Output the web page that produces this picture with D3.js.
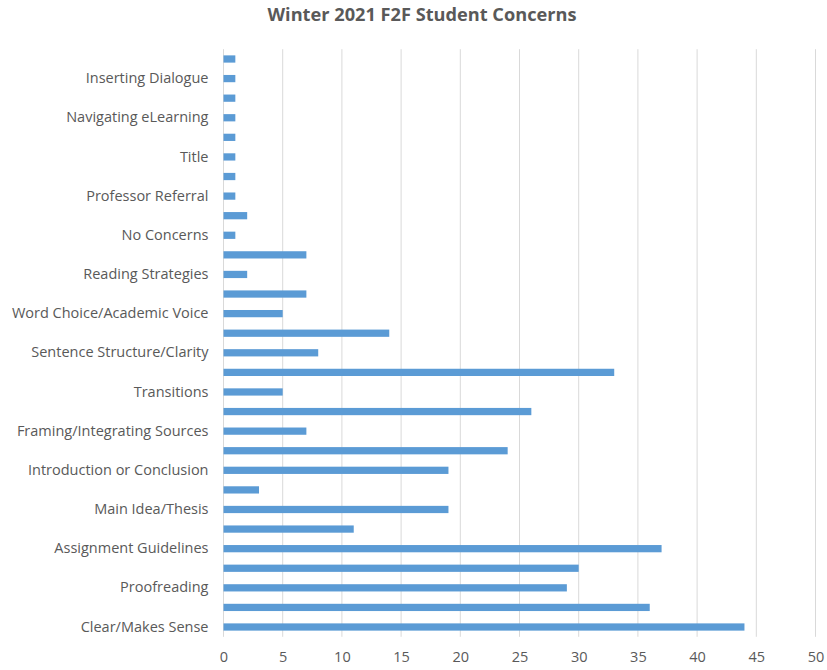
<!DOCTYPE html>
<html>
<head>
<meta charset="utf-8">
<script src="https://cdn.jsdelivr.net/npm/d3@7"></script>
<style>
  html, body { margin: 0; padding: 0; background: #fff; }
  svg { display: block; }
</style>
</head>
<body>
<div id="chart"></div>
<script>
// Categories listed bottom-to-top (as in the source spreadsheet). Only every other label is shown in the chart.
const categories = [
  "Clear/Makes Sense", "Unlabeled 1", "Proofreading", "Unlabeled 2",
  "Assignment Guidelines", "Unlabeled 3", "Main Idea/Thesis", "Unlabeled 4",
  "Introduction or Conclusion", "Unlabeled 5", "Framing/Integrating Sources", "Unlabeled 6",
  "Transitions", "Unlabeled 7", "Sentence Structure/Clarity", "Unlabeled 8",
  "Word Choice/Academic Voice", "Unlabeled 9", "Reading Strategies", "Unlabeled 10",
  "No Concerns", "Unlabeled 11", "Professor Referral", "Unlabeled 12",
  "Title", "Unlabeled 13", "Navigating eLearning", "Unlabeled 14",
  "Inserting Dialogue", "Unlabeled 15"
];
const values = [
  44, 36, 29, 30,
  37, 11, 19, 3,
  19, 24, 7, 26,
  5, 33, 8, 14,
  5, 7, 2, 7,
  1, 2, 1, 1,
  1, 1, 1, 1,
  1, 1
];
const shownLabels = [
  "Clear/Makes Sense", "Proofreading", "Assignment Guidelines", "Main Idea/Thesis",
  "Introduction or Conclusion", "Framing/Integrating Sources", "Transitions",
  "Sentence Structure/Clarity", "Word Choice/Academic Voice", "Reading Strategies",
  "No Concerns", "Professor Referral", "Title", "Navigating eLearning", "Inserting Dialogue"
];
const xTicks = [0, 5, 10, 15, 20, 25, 30, 35, 40, 45, 50];
const title = "Winter 2021 F2F Student Concerns";

const W = 827, H = 670;
const margin = { left: 223.5, right: 11.5, top: 49.2, bottom: 33.2 };
const font = "'Open Sans', Lato, sans-serif";
const textColor = "#595959";

const svg = d3.select("#chart").append("svg")
  .attr("width", W).attr("height", H)
  .style("font-family", font);

const x = d3.scaleLinear().domain([0, 50]).range([margin.left, W - margin.right]);
// bottom-to-top ordering: first category at the bottom
const y = d3.scaleBand()
  .domain(categories)
  .range([H - margin.bottom, margin.top])
  .paddingInner(0.63).paddingOuter(0.315);

// gridlines
svg.append("g").selectAll("line").data(xTicks).join("line")
  .attr("x1", d => x(d)).attr("x2", d => x(d))
  .attr("y1", margin.top).attr("y2", H - margin.bottom)
  .attr("stroke", "#d9d9d9").attr("stroke-width", 1);

// bars
svg.append("g").selectAll("rect").data(categories).join("rect")
  .attr("x", x(0))
  .attr("y", d => y(d))
  .attr("width", (d, i) => x(values[i]) - x(0))
  .attr("height", y.bandwidth())
  .attr("fill", "#5B9BD5");

// x axis labels
const xAxis = d3.axisBottom(x).tickValues(xTicks).tickSize(0).tickPadding(0);
const gx = svg.append("g")
  .attr("transform", `translate(0,${H - margin.bottom})`)
  .call(xAxis);
gx.select(".domain").remove();
gx.selectAll("text")
  .attr("y", 15)
  .attr("dy", "0.71em")
  .attr("fill", textColor)
  .style("font-size", "14.5px")
  .style("font-family", font);

// y axis labels (only every other)
const yAxis = d3.axisLeft(y).tickSize(0).tickPadding(15)
  .tickFormat(d => shownLabels.includes(d) ? d : "");
const gy = svg.append("g")
  .attr("transform", `translate(${x(0)},0)`)
  .call(yAxis);
gy.select(".domain").remove();
gy.selectAll(".tick").filter(d => !shownLabels.includes(d)).remove();
gy.selectAll("text")
  .attr("fill", textColor)
  .style("font-size", "14.5px")
  .style("font-family", font);

// title
svg.append("text")
  .attr("x", 422).attr("y", 21)
  .attr("text-anchor", "middle")
  .attr("fill", textColor)
  .style("font-size", "18.2px")
  .style("font-weight", "bold")
  .style("font-family", font)
  .text(title);
</script>
</body>
</html>
